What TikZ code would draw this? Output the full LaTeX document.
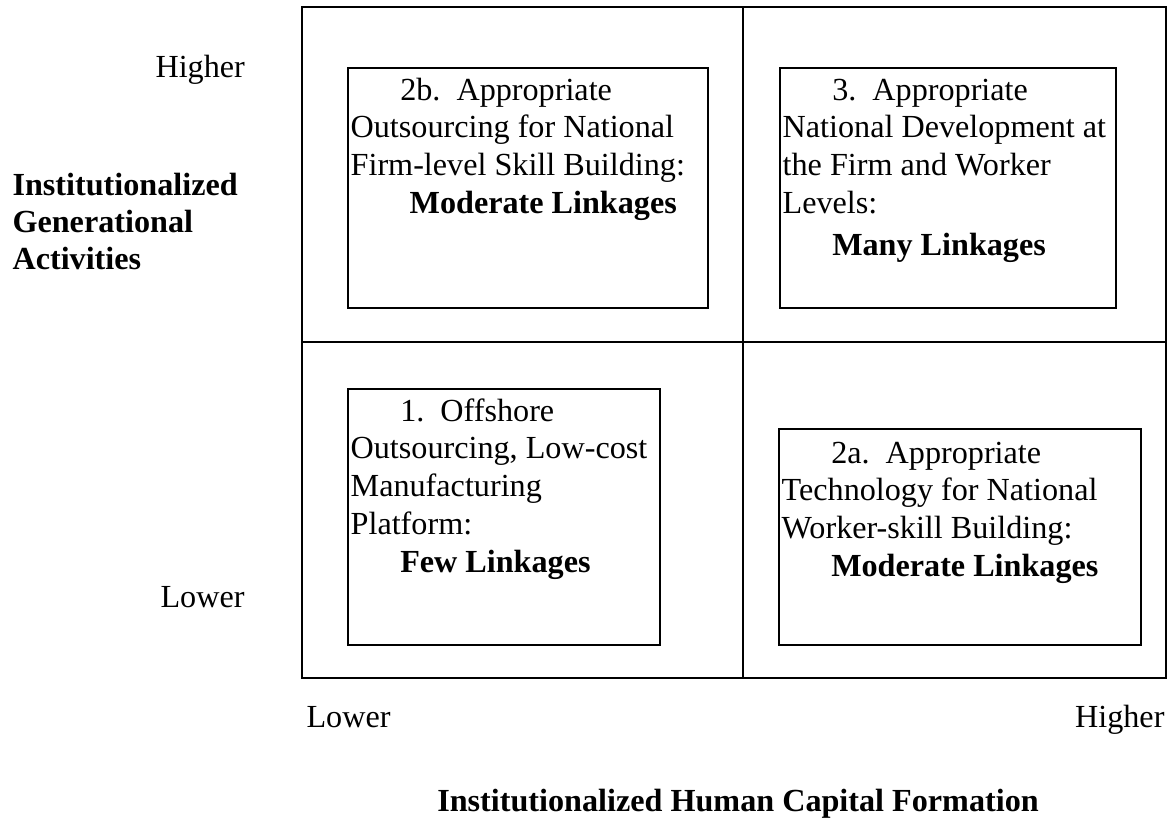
\documentclass[tikz,border=0pt]{standalone}
\usepackage{fontspec}
\setmainfont{Liberation Serif}
\usetikzlibrary{positioning}
\tikzset{>=latex}
\tikzset{
  grid/.style={line width=0.75pt},
  cellbox/.style={line width=1.1pt},
  celltext/.style={anchor=north west, inner sep=0pt, xshift=0.8pt, align=left,
    font=\fontsize{12}{14.1}\selectfont},
  axtext/.style={inner sep=0pt, font=\fontsize{12}{13.8}\selectfont}
}
\newcommand{\firstln}{\rule{0pt}{11.8pt}}

\begin{document}
\begin{tikzpicture}[x=0.373pt,y=-0.373pt]
      \useasboundingbox (0,0) rectangle (1168,828);
      % outer frame and quadrants
      \draw[grid] (302,7) rectangle (1166,678);
      \draw[grid] (743,7) -- (743,678);
      \draw[grid] (302,342) -- (1166,342);

      % the four cells
      \coordinate (c2b) at (348,68);
      \coordinate (c3) at (780,68);
      \coordinate (c1) at (348,389);
      \coordinate (c2a) at (779,429);
      \draw[cellbox] (c2b) rectangle (708,308);
      \draw[cellbox] (c3) rectangle (1116,308);
      \draw[cellbox] (c1) rectangle (660,645);
      \draw[cellbox] (c2a) rectangle (1141,645);

      \node[celltext] (t2b) at (c2b) {\firstln\hspace*{18.5pt}2b.\ \ Appropriate\\
        Outsourcing for National\\Firm-level Skill Building:\\
        \hspace*{22pt}\textbf{Moderate Linkages}};
      \node[celltext] (t3) at (c3) {\firstln\hspace*{18.5pt}3.\ \ Appropriate\\
        National Development at\\the Firm and Worker\\Levels:\\[1.5pt]
        \hspace*{18.5pt}\textbf{Many Linkages}};
      \node[celltext] (t1) at (c1) {\firstln\hspace*{18.5pt}1.\ \ Offshore\\
        Outsourcing, Low-cost\\Manufacturing\\Platform:\\
        \hspace*{18.5pt}\textbf{Few Linkages}};
      \node[celltext] (t2a) at (c2a) {\rule{0pt}{12.5pt}\hspace*{18.5pt}2a.\ \ Appropriate\\
        Technology for National\\Worker-skill Building:\\
        \hspace*{18.5pt}\textbf{Moderate Linkages}};

      % axis labels
      \node[axtext,anchor=base west] (yhigh) at (155,78) {Higher};
      \node[axtext,anchor=base west] (ylow) at (160,607) {Lower};
      \node[axtext,anchor=north west,align=left,font=\fontsize{12}{13.8}\selectfont\bfseries]
        (ytitle) at (12,167) {\rule{0pt}{10.5pt}Institutionalized\\Generational\\Activities};
      \node[axtext,anchor=base west] (xlow) at (306,727) {Lower};
      \node[axtext,anchor=base east] (xhigh) at (1165,727) {Higher};
      \node[axtext,anchor=base,font=\fontsize{12}{13.8}\selectfont\bfseries]
        (xtitle) at (738,811) {Institutionalized Human Capital Formation};
    \end{tikzpicture}
\end{document}
